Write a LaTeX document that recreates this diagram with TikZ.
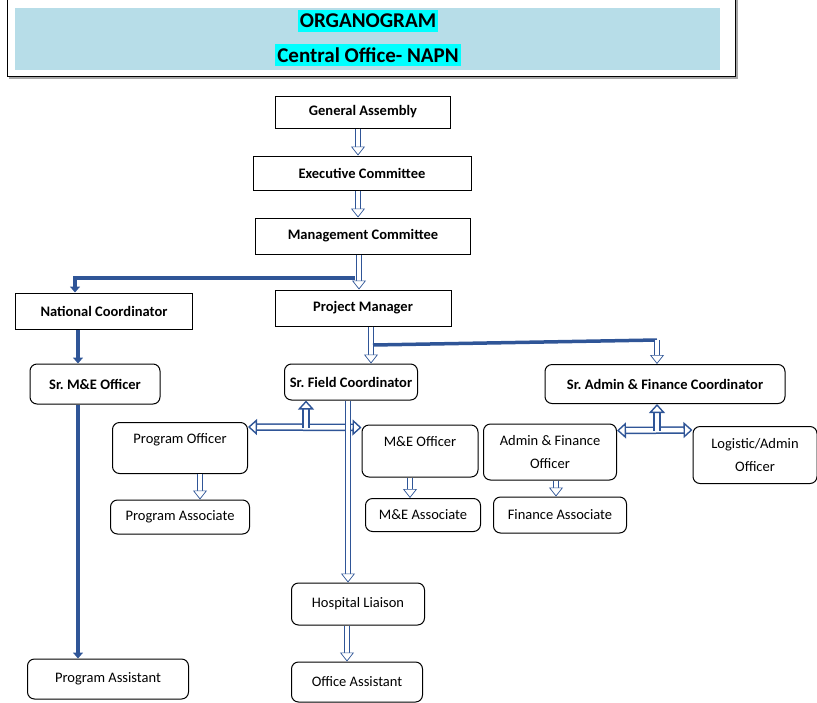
\documentclass[tikz,border=0pt]{standalone}
\usepackage{fontspec}
\setmainfont{Carlito}
\usetikzlibrary{arrows.meta,positioning,calc}
\definecolor{arrowblue}{RGB}{47,85,151}
\definecolor{headblue}{RGB}{183,221,232}
\definecolor{hilite}{RGB}{0,255,255}

\tikzset{
  sqbox/.style={draw, line width=1pt, fill=white, font=\bfseries\fontsize{14.5}{17}\selectfont},
  rbox/.style={draw, line width=1pt, rounded corners=7pt, fill=white, align=center, font=\fontsize{14.5}{17}\selectfont},
  boldr/.style={rbox, font=\bfseries\fontsize{14.5}{17}\selectfont},
  titlebox/.style={fill=hilite, inner xsep=2pt, inner ysep=4pt, font=\bfseries\fontsize{21}{24}\selectfont},
  hollowtip/.tip={Triangle[fill=white, width=14pt, length=9pt, line width=0.7pt]},
  widetip/.tip={Triangle[fill=white, width=16pt, length=9pt, line width=1.4pt]},
  hollow/.style={draw=arrowblue, line width=0.8pt, double=white, double distance=4.5pt, -hollowtip},
  hollowboth/.style={draw=arrowblue, line width=1.5pt, double=white, double distance=4.5pt, widetip-widetip},
  hollowup/.style={draw=arrowblue, line width=1.5pt, double=white, double distance=4.5pt, -widetip},
  solidline/.style={draw=arrowblue, line width=3.5pt},
  solidarrow/.style={solidline, -{Triangle[width=10pt, length=6pt]}},
}

\begin{document}
\begin{tikzpicture}[x=1pt, y=-1pt]
\useasboundingbox (0,0) rectangle (817,702);
% header
\fill[headblue] (15,8) rectangle (720,70);
\draw[gray!70, line width=1.5pt] (9,78) -- (737,78) -- (737,0);
\draw[line width=1pt] (7,0) -- (7,76) -- (735,76) -- (735,0);
\node[titlebox] (title) at (368,21) {ORGANOGRAM};
\node[titlebox] (subtitle) at (368,55) {Central Office- NAPN};
%
\node[sqbox, minimum width=175, minimum height=32] at (363,112) (ga) {General Assembly};
\node[sqbox, minimum width=218, minimum height=34] at (362,173) (ec) {Executive Committee};
\node[sqbox, minimum width=215, minimum height=36] at (363,236) (mc) {Management Committee};
\node[sqbox, minimum width=177, minimum height=36] at (104,311) (nc) {National Coordinator};
\node[sqbox, minimum width=176, minimum height=36] at (363,308) (pm) {Project Manager};
%
\node[boldr, minimum width=130, minimum height=40] at (95,384) (srme) {Sr.\ M\&E Officer};
\node[boldr, minimum width=133, minimum height=36] at (351,382) (sfc) {Sr.\ Field Coordinator};
\node[boldr, minimum width=240, minimum height=39] at (665,384) (safc) {Sr.\ Admin \& Finance Coordinator};
%
\node[rbox, minimum width=135, minimum height=51] at (180,448) (po) {Program Officer\\[2pt]\mbox{}};
\node[rbox, minimum width=116, minimum height=52] at (420,451) (meo) {M\&E Officer\\[2pt]\mbox{}};
\node[rbox, minimum width=133, minimum height=56] at (550,452) (afo) {Admin \& Finance\\[6pt]Officer};
\node[rbox, minimum width=124, minimum height=57] at (755,455) (lao) {Logistic/Admin\\[6pt]Officer};
\node[rbox, minimum width=139, minimum height=34] at (180,517) (pa) {Program Associate};
\node[rbox, minimum width=115, minimum height=33] at (423,515) (mea) {M\&E Associate};
\node[rbox, minimum width=133, minimum height=36] at (560,515) (fa) {Finance Associate};
\node[rbox, minimum width=133, minimum height=42] at (358,604) (hl) {Hospital Liaison};
\node[rbox, minimum width=161, minimum height=40] at (108,679) (pas) {Program Assistant};
\node[rbox, minimum width=131, minimum height=40] at (357,682) (oa) {Office Assistant};
%
\coordinate (fieldjoin) at (306,428);
\coordinate (adminjoin) at (657,431);
\coordinate (ncturn) at (355,278);
\coordinate (adminturn) at (657,340);
%
\draw[hollow] ([xshift=-5]ga.south) -- ([xshift=-4]ec.north);
\draw[hollow] ([xshift=-4]ec.south) -- ([xshift=-5]mc.north);
\draw[hollow] ([xshift=-4]mc.south) -- ([xshift=-4]pm.north);
\draw[solidarrow] (ncturn) -| ([xshift=-29]nc.north);
\draw[solidarrow] ([xshift=-26]nc.south) -- ([xshift=-17]srme.north);
\draw[solidarrow] ([xshift=-17]srme.south) -- ([xshift=-30]pas.north);
\draw[hollow] ([xshift=8]pm.south) -- ([xshift=20]sfc.north);
\draw[solidline] ($([xshift=10]pm.south)!0.5!([xshift=22]sfc.north)$) -- (adminturn);
\draw[hollow] (adminturn) -- (adminturn |- safc.north);
\draw[hollowboth] ([yshift=-5]po.north east) -- ([yshift=-3]meo.north west);
\draw[hollowup] (fieldjoin) -- (fieldjoin |- sfc.south);
\draw[hollowboth] ([yshift=-7]afo.north east) -- ([yshift=-4]lao.north west);
\draw[hollowup] (adminjoin) -- (adminjoin |- safc.south);
\draw[hollow] ([xshift=-3]sfc.south) -- ([xshift=-10]hl.north);
\draw[hollow] ([xshift=-11]hl.south) -- ([xshift=-10]oa.north);
\draw[hollow] ([xshift=20]po.south) -- ([xshift=20]pa.north);
\draw[hollow] ([xshift=-10]meo.south) -- ([xshift=-13]mea.north);
\draw[hollow] ([xshift=6]afo.south) -- ([xshift=-4]fa.north);
\end{tikzpicture}
\end{document}
